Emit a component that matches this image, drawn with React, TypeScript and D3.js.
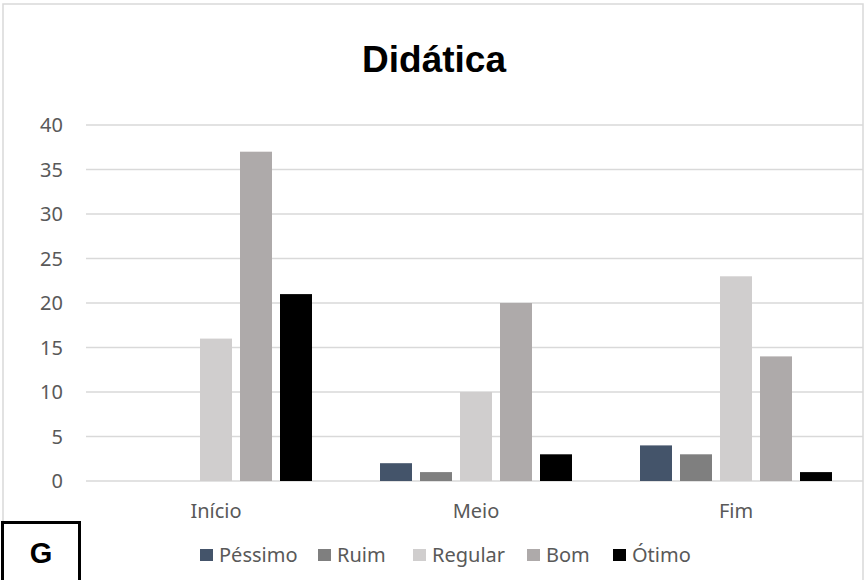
import React from "react";
import * as d3 from "d3";

const categories = ["Início", "Meio", "Fim"];
const seriesNames = ["Péssimo", "Ruim", "Regular", "Bom", "Ótimo"];
const pessimo = [0, 2, 4];
const ruim = [0, 1, 3];
const regular = [16, 10, 23];
const bom = [37, 20, 14];
const otimo = [21, 3, 1];
const seriesValues = [pessimo, ruim, regular, bom, otimo];
const seriesColors = ["#44546A", "#7F7F7F", "#D0CECE", "#AEAAAA", "#000000"];
const yTicks = [0, 5, 10, 15, 20, 25, 30, 35, 40];
const chartTitle = "Didática";
const panelLetter = "G";

const W = 865;
const H = 580;
const FONT = "'Noto Sans', sans-serif";
const TEXT = "#595959";

export default function App() {
  const x = d3.scaleBand<string>().domain(categories).range([86, 866]).padding(0);
  const inner = d3
    .scaleBand<string>()
    .domain(seriesNames)
    .range([-100, 100])
    .paddingInner(0.2)
    .paddingOuter(0.1);
  const y = d3.scaleLinear().domain([0, 40]).range([481, 125]);

  // legend item widths: square + gap + measured text + spacing
  const legendX = [200, 318, 413, 527, 613];

  return (
    <svg
      width={W}
      height={H}
      style={{ position: "absolute", left: 0, top: 0, background: "#fff" }}
    >
      <rect x={0} y={0} width={W} height={H} fill="#fff" />
      {/* chart frame */}
      <rect x={3} y={4} width={860} height={600} fill="none" stroke="#D9D9D9" strokeWidth={1.5} />

      <text
        x={434}
        y={72}
        textAnchor="middle"
        fontFamily="'Liberation Sans', Arial, sans-serif"
        fontWeight="bold"
        fontSize={37}
        fill="#000"
      >
        {chartTitle}
      </text>

      {/* gridlines and y labels */}
      {yTicks.map((t) => (
        <g key={t}>
          <line x1={86} x2={863} y1={y(t)} y2={y(t)} stroke="#D9D9D9" strokeWidth={1.5} />
          <text
            x={63}
            y={y(t) + 7}
            textAnchor="end"
            fontFamily={FONT}
            fontSize={20}
            fill={TEXT}
          >
            {t}
          </text>
        </g>
      ))}

      {/* bars */}
      {categories.map((c, ci) => {
        const cx = (x(c) as number) + x.bandwidth() / 2;
        return (
          <g key={c}>
            {seriesNames.map((s, si) => {
              const v = seriesValues[si][ci];
              if (v <= 0) return null;
              return (
                <rect
                  key={s}
                  x={cx + (inner(s) as number)}
                  y={y(v)}
                  width={inner.bandwidth()}
                  height={y(0) - y(v)}
                  fill={seriesColors[si]}
                />
              );
            })}
            <text
              x={cx}
              y={518}
              textAnchor="middle"
              fontFamily={FONT}
              fontSize={20}
              fill={TEXT}
            >
              {c}
            </text>
          </g>
        );
      })}

      {/* legend */}
      {seriesNames.map((s, si) => (
        <g key={s} transform={`translate(${legendX[si]},0)`}>
          <rect x={0} y={549} width={13} height={12} fill={seriesColors[si]} />
          <text x={19} y={562} fontFamily={FONT} fontSize={20} fill={TEXT}>
            {s}
          </text>
        </g>
      ))}

      {/* panel letter box */}
      <rect x={2.5} y={522.5} width={77} height={70} fill="#fff" stroke="#000" strokeWidth={3} />
      <text
        x={41}
        y={563}
        textAnchor="middle"
        fontFamily="'Liberation Sans', Arial, sans-serif"
        fontWeight="bold"
        fontSize={29}
        fill="#000"
      >
        {panelLetter}
      </text>
    </svg>
  );
}
